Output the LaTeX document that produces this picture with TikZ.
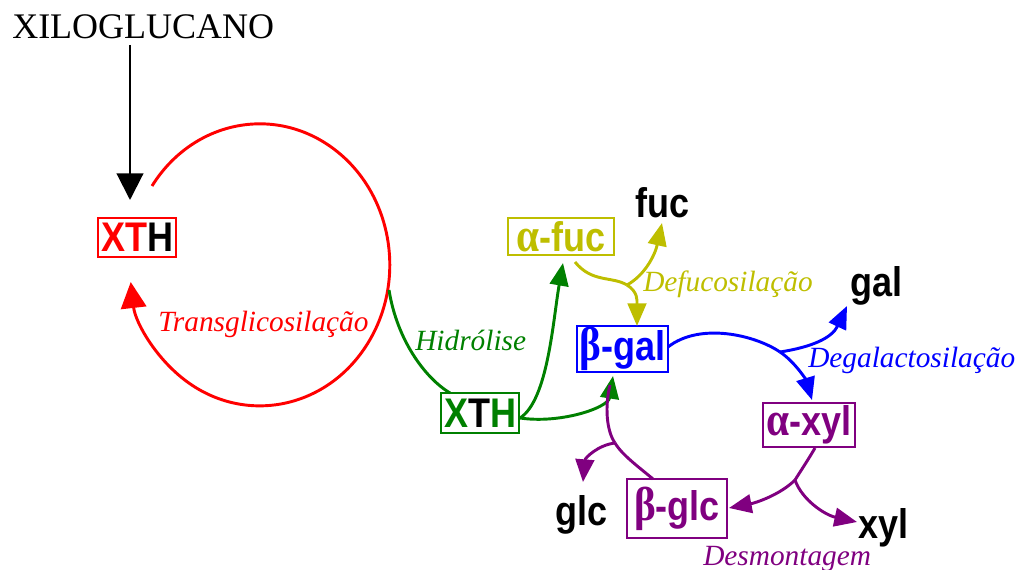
\documentclass[tikz,border=0pt]{standalone}
\usepackage{fontspec}
\setmainfont{Liberation Serif}
\newfontfamily\arialf{Liberation Sans}
\usetikzlibrary{arrows.meta,calc}
\definecolor{cgreen}{RGB}{0,128,0}
\definecolor{cyel}{RGB}{190,190,0}
\definecolor{cpurp}{RGB}{128,0,128}
\definecolor{cblue}{RGB}{0,0,255}
\definecolor{cred}{RGB}{255,0,0}
\newcommand\boxtxt[1]{\scalebox{1}[1.15]{\fontsize{27}{30}\arialf\bfseries #1}}
\newcommand\gk[1]{{\rmfamily\fontsize{31}{32}\selectfont #1}}
\newcommand\itl[1]{{\fontsize{22}{24}\selectfont\itshape #1}}
\begin{document}
\begin{tikzpicture}[x=0.75pt,y=-0.75pt,
  enz/.style={draw, line width=1.5pt, inner sep=0pt},
  con/.style={line width=2.2pt},
  tipS/.style={-{Triangle[length=17pt,width=14pt]}},
  tipR/.style={-{Triangle[length=19.5pt,width=19pt]}},
  tipK/.style={-{Triangle[length=20pt,width=20pt]}},
  lbl/.style={anchor=base west, inner sep=0pt},
  prod/.style={anchor=base west, inner sep=0pt}]
\useasboundingbox (0,0) rectangle (1022,570);

% texts
\node[lbl] (xilo) at (12,39) {\fontsize{27}{30}\selectfont XILOGLUCANO};
\node[lbl, text=cred] (ltrans) at (158,332) {\itl{Transglicosilação}};
\node[lbl, text=cgreen] (lhid) at (415,351) {\itl{Hidrólise}};
\node[lbl, text=cyel] (ldefu) at (643,292) {\itl{Defucosilação}};
\node[lbl, text=cblue] (ldega) at (808,368) {\itl{Degalactosilação}};
\node[lbl, text=cpurp] (ldesm) at (703,565) {\itl{Desmontagem}};

\node[prod] (fuc) at (635,218) {\boxtxt{fuc}};
\node[prod] (gal) at (850,297) {\boxtxt{gal}};
\node[prod] (glc) at (555,525) {\boxtxt{glc}};
\node[prod] (xyl) at (858,538) {\boxtxt{xyl}};

% enzymes
\node[enz, draw=cred, minimum width=58.5pt, minimum height=29.25pt] (xthA) at (137,237.5)
  {\boxtxt{\color{cred}XT\color{black}H}};
\node[enz, draw=cgreen, minimum width=58.5pt, minimum height=30pt] (xthB) at (480,413)
  {\boxtxt{\color{cgreen}X\color{black}T\color{cgreen}H}};
\node[enz, draw=cyel, line width=2pt, minimum width=79.5pt, minimum height=27.75pt, text=cyel] (afuc) at (561,236.5)
  {\boxtxt{\gk{α}-fuc}};
\node[enz, draw=cblue, minimum width=68.25pt, minimum height=34.5pt, text=cblue] (bgal) at (622.5,349)
  {\boxtxt{\gk{β}-gal}};
\node[enz, draw=cpurp, minimum width=69pt, minimum height=33pt, text=cpurp] (axyl) at (809,425)
  {\boxtxt{\gk{α}-xyl}};
\node[enz, draw=cpurp, minimum width=75pt, minimum height=44.25pt, text=cpurp] (bglc) at (677,508.5)
  {\boxtxt{\gk{β}-glc}};

% coordinates
\coordinate (k0) at (130,45);
\coordinate (k1) at (130,200);
\coordinate (rs) at (152,186);
\coordinate (hj) at (389,290);
\coordinate (h1) at (450,393);
\coordinate (g0) at (520,418);
\coordinate (g1) at (563,263);
\coordinate (g2) at (613,376);
\coordinate (y0) at (575,262);
\coordinate (yj) at (627,285);
\coordinate (y1) at (662,223);
\coordinate (y2) at (637,326);
\coordinate (b0) at (668,347);
\coordinate (bj) at (780,352);
\coordinate (b1) at (812,400);
\coordinate (b2) at (847,306);
\coordinate (p0) at (815,448);
\coordinate (pj) at (795,480);
\coordinate (p1) at (729,508);
\coordinate (p2) at (857,522);
\coordinate (q0) at (653,479);
\coordinate (qj) at (615,443);
\coordinate (q1) at (610,385);
\coordinate (q2) at (583,482);

% connectors
\draw[line width=1.6pt, tipK] (k0) -- (k1);
\draw[cred, con, tipR] (rs) arc[start angle=-146, end angle=173, x radius=130, y radius=141];
\draw[cgreen, con] (hj) .. controls (397,340) and (425,378) .. (h1);
\draw[cgreen, con, tipS] (g0) .. controls (548,400) and (553,320) .. (g1);
\draw[cgreen, con, tipS] (g0) .. controls (560,424) and (608,408) .. (g2);
\draw[cyel, con] (y0) .. controls (592,283) and (612,276) .. (yj);
\draw[cyel, con, tipS] (yj) .. controls (638,292) and (637,300) .. (y2);
\draw[cyel, con, tipS] (yj) .. controls (645,275) and (655,255) .. (y1);
\draw[cblue, con] (b0) .. controls (700,322) and (755,335) .. (bj);
\draw[cblue, con, tipS] (bj) .. controls (795,362) and (806,380) .. (b1);
\draw[cblue, con, tipS] (bj) .. controls (812,347) and (832,338) .. (b2);
\draw[cpurp, con] (p0) .. controls (808,460) and (800,472) .. (pj);
\draw[cpurp, con, tipS] (pj) .. controls (780,495) and (755,503) .. (p1);
\draw[cpurp, con, tipS] (pj) .. controls (802,500) and (825,515) .. (p2);
\draw[cpurp, con] (q0) .. controls (640,468) and (622,455) .. (qj);
\draw[cpurp, con] (qj) .. controls (606,430) and (605,405) .. (q1);
\draw[cpurp, con, tipS] (qj) .. controls (598,445) and (585,458) .. (q2);
\end{tikzpicture}
\end{document}
